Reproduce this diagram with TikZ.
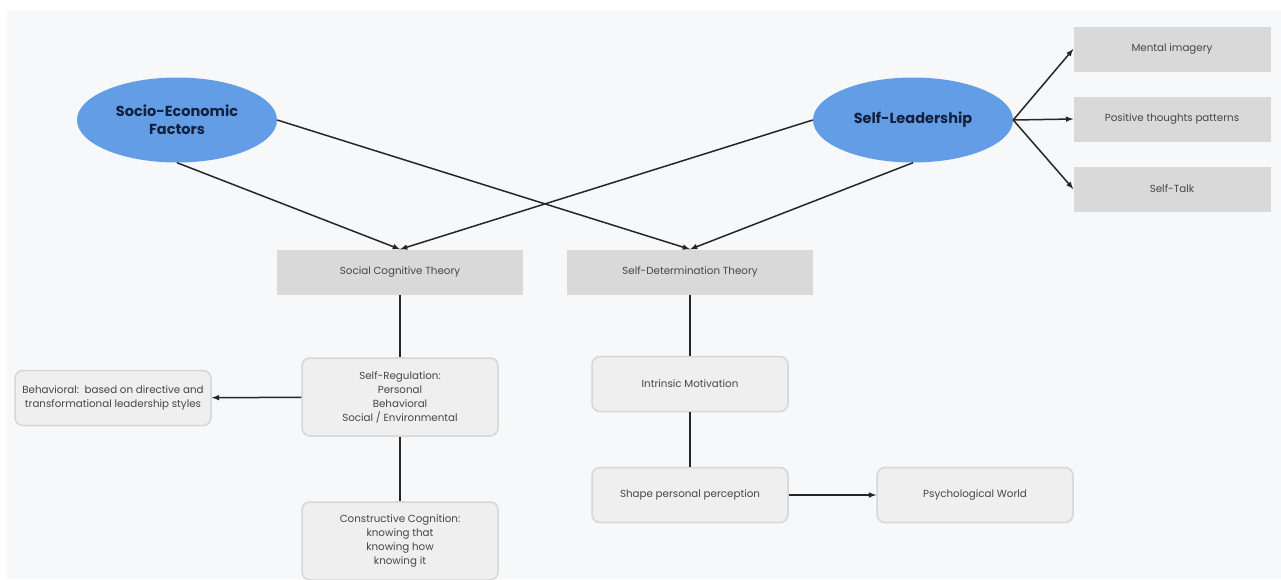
\documentclass[tikz,border=0pt]{standalone}
\usepackage{fontspec}
\setmainfont{Poppins}
\usetikzlibrary{shapes.geometric}
\usetikzlibrary{arrows.meta}
\tikzset{>=latex}
\definecolor{mapblue}{RGB}{98,157,230}
\definecolor{mapnavy}{RGB}{18,32,60}
\definecolor{mapgray}{RGB}{217,217,217}
\definecolor{maplight}{RGB}{239,239,239}
\definecolor{mapedge}{RGB}{214,214,214}
\definecolor{mapbg}{RGB}{247,248,250}
\definecolor{mapink}{RGB}{38,38,38}
\definecolor{maptext}{RGB}{70,70,70}
\tikzstyle{bigoval}=[ellipse,fill=mapblue,minimum width=200pt,minimum height=85pt,inner sep=0pt,align=center,text=mapnavy,font=\fontsize{14.5}{18}\selectfont\bfseries]
\tikzstyle{graybox}=[rectangle,fill=mapgray,minimum height=45pt,inner sep=0pt,align=center,text=maptext,font=\fontsize{10.3}{14}\selectfont]
\tikzstyle{softbox}=[rectangle,rounded corners=8pt,fill=maplight,draw=mapedge,line width=1.5pt,minimum width=196pt,inner sep=0pt,align=center,text=maptext,font=\fontsize{10.3}{14}\selectfont]
\tikzstyle{link}=[draw=mapink,line width=1.5pt]

\begin{document}
\begin{tikzpicture}[x=1pt,y=-1pt]
    \useasboundingbox (0,0) rectangle (1281,579);
    \fill[white] (0,0) rectangle (1281,579);
    \fill[mapbg] (7,10) rectangle (1281,579);

    % Ovals
    \node[bigoval] (socio) at (177,120) {Socio-Economic\\Factors};
    \node[bigoval] (selflead) at (913,120) {Self-Leadership};

    % Self-leadership strategies
    \node[graybox,minimum width=197pt] (imagery) at (1172,49) {Mental imagery};
    \node[graybox,minimum width=197pt] (thoughts) at (1172,119) {Positive thoughts patterns};
    \node[graybox,minimum width=197pt] (selftalk) at (1172,189) {Self-Talk};

    % Theories
    \node[graybox,minimum width=246pt] (sct) at (400,272) {Social Cognitive Theory};
    \node[graybox,minimum width=246pt] (sdt) at (690,272) {Self-Determination Theory};

    % Left branch
    \node[softbox,minimum height=78pt] (selfreg) at (400,397) {Self-Regulation:\\Personal\\Behavioral\\Social / Environmental};
    \node[softbox,minimum height=55pt] (behav) at (113,398) {Behavioral:\ \ based on directive and\\transformational leadership styles};
    \node[softbox,minimum height=78pt] (constr) at (400,541) {Constructive Cognition:\\knowing that\\knowing how\\knowing it};

    % Right branch
    \node[softbox,minimum height=55pt] (intrinsic) at (690,384) {Intrinsic Motivation};
    \node[softbox,minimum height=55pt] (shape) at (690,495) {Shape personal perception};
    \node[softbox,minimum height=55pt] (psych) at (975,495) {Psychological World};

    % Arrows
    \draw[link,->] (socio.south) -- (sct.north);
    \draw[link,->] (socio.east) -- (sdt.north);
    \draw[link,->] (selflead.west) -- (sct.north);
    \draw[link,->] (selflead.south) -- (sdt.north);
    \draw[link,->] (selflead.east) -- (imagery.west);
    \draw[link,->] (selflead.east) -- (thoughts.west);
    \draw[link,->] (selflead.east) -- (selftalk.west);

    \draw[link] (sct) -- (selfreg);
    \draw[link] (selfreg) -- (constr);
    \draw[link,->] (selfreg) -- (behav);
    \draw[link] (sdt) -- (intrinsic);
    \draw[link] (intrinsic) -- (shape);
    \draw[link,->] (shape) -- (psych);
\end{tikzpicture}
\end{document}
